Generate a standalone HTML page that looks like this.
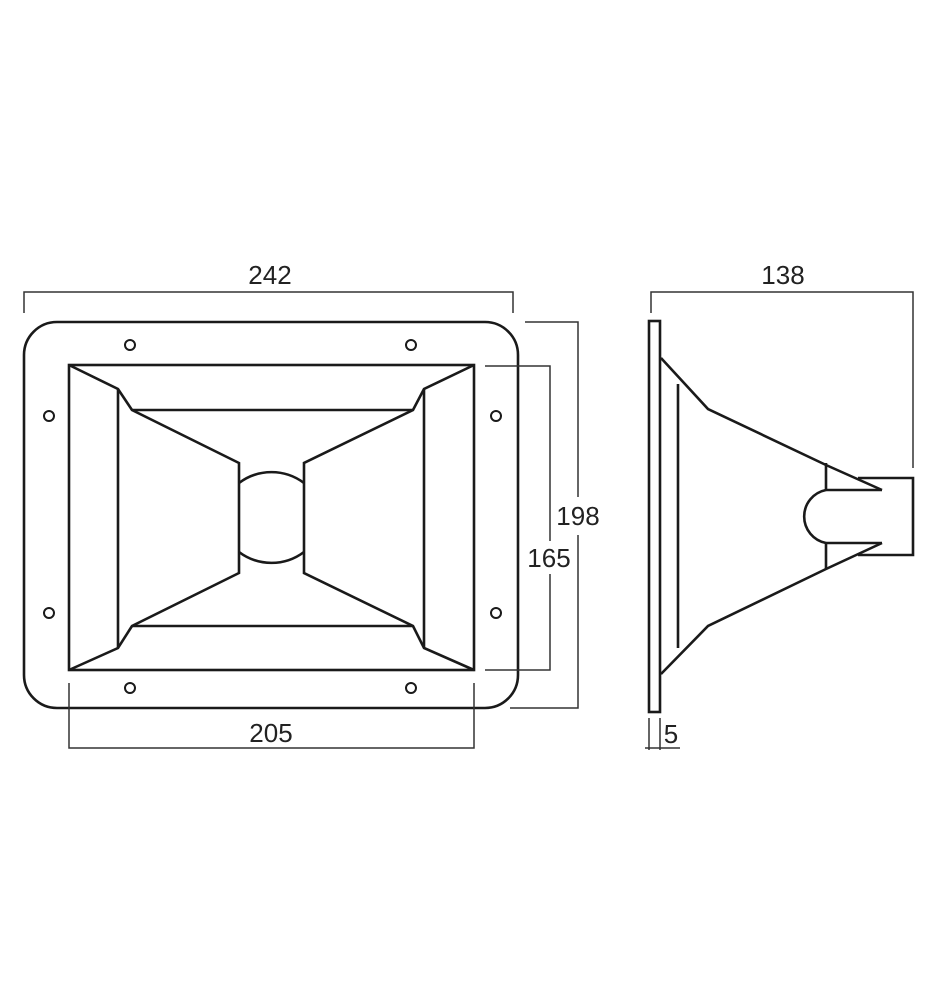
<!DOCTYPE html>
<html><head><meta charset="utf-8"><style>
html,body{margin:0;padding:0;background:#fff}
svg{display:block}
text{font-family:"Liberation Sans",sans-serif;font-size:26px;fill:#222;text-anchor:middle}
</style></head><body>
<svg width="939" height="1000" viewBox="0 0 939 1000">
<g fill="none" stroke="#1a1a1a" stroke-width="2.6" stroke-linejoin="miter">
<rect x="24" y="322" width="494" height="386" rx="33"/>
<rect x="69" y="365" width="405" height="305"/>
<line x1="118" y1="389" x2="118" y2="648"/>
<line x1="424" y1="389" x2="424" y2="648"/>
<polyline points="69,365 118,389 132,410 239,463 239,573 132,626 118,648 69,670"/>
<polyline points="474,365 424,389 413,410 304,463 304,573 413,626 424,648 474,670"/>
<line x1="132" y1="410" x2="413" y2="410"/>
<line x1="132" y1="626" x2="413" y2="626"/>
<path d="M239,483 A54,54 0 0 1 304,483"/>
<path d="M239,552 A54,54 0 0 0 304,552"/>
<g stroke-width="2">
<circle cx="130" cy="345" r="5"/><circle cx="411" cy="345" r="5"/>
<circle cx="49" cy="416" r="5"/><circle cx="496" cy="416" r="5"/>
<circle cx="49" cy="613" r="5"/><circle cx="496" cy="613" r="5"/>
<circle cx="130" cy="688" r="5"/><circle cx="411" cy="688" r="5"/>
</g>
<!-- side view -->
<rect x="649" y="321" width="11" height="391"/>
<polyline points="661,358 708,409 826,465 882,490"/>
<polyline points="661,674 708,626 826,569 882,543"/>
<line x1="826" y1="463" x2="826" y2="490"/>
<line x1="826" y1="543" x2="826" y2="569"/>
<line x1="826" y1="490" x2="882" y2="490"/>
<line x1="826" y1="543" x2="882" y2="543"/>
<path d="M826,490 A27,27 0 0 0 826,543"/>
<polyline points="858,478 913,478 913,555 858,555"/>
<line x1="678" y1="384" x2="678" y2="648"/>
</g>
<g fill="none" stroke="#333" stroke-width="1.5">
<polyline points="24,313 24,292 513,292 513,313"/>
<polyline points="525,322 578,322 578,497"/>
<polyline points="510,708 578,708 578,535"/>
<polyline points="485,366 550,366 550,541"/>
<polyline points="485,670 550,670 550,574"/>
<polyline points="69,683 69,748 474,748 474,683"/>
<polyline points="651,313 651,292 913,292 913,468"/>
<line x1="649" y1="718" x2="649" y2="750"/>
<line x1="660" y1="718" x2="660" y2="750"/>
<line x1="645" y1="748" x2="680" y2="748"/>
</g>
<text x="270" y="284">242</text>
<text x="578" y="525">198</text>
<text x="549" y="567">165</text>
<text x="271" y="742">205</text>
<text x="783" y="284">138</text>
<text x="671" y="743">5</text>
</svg>
</body></html>
